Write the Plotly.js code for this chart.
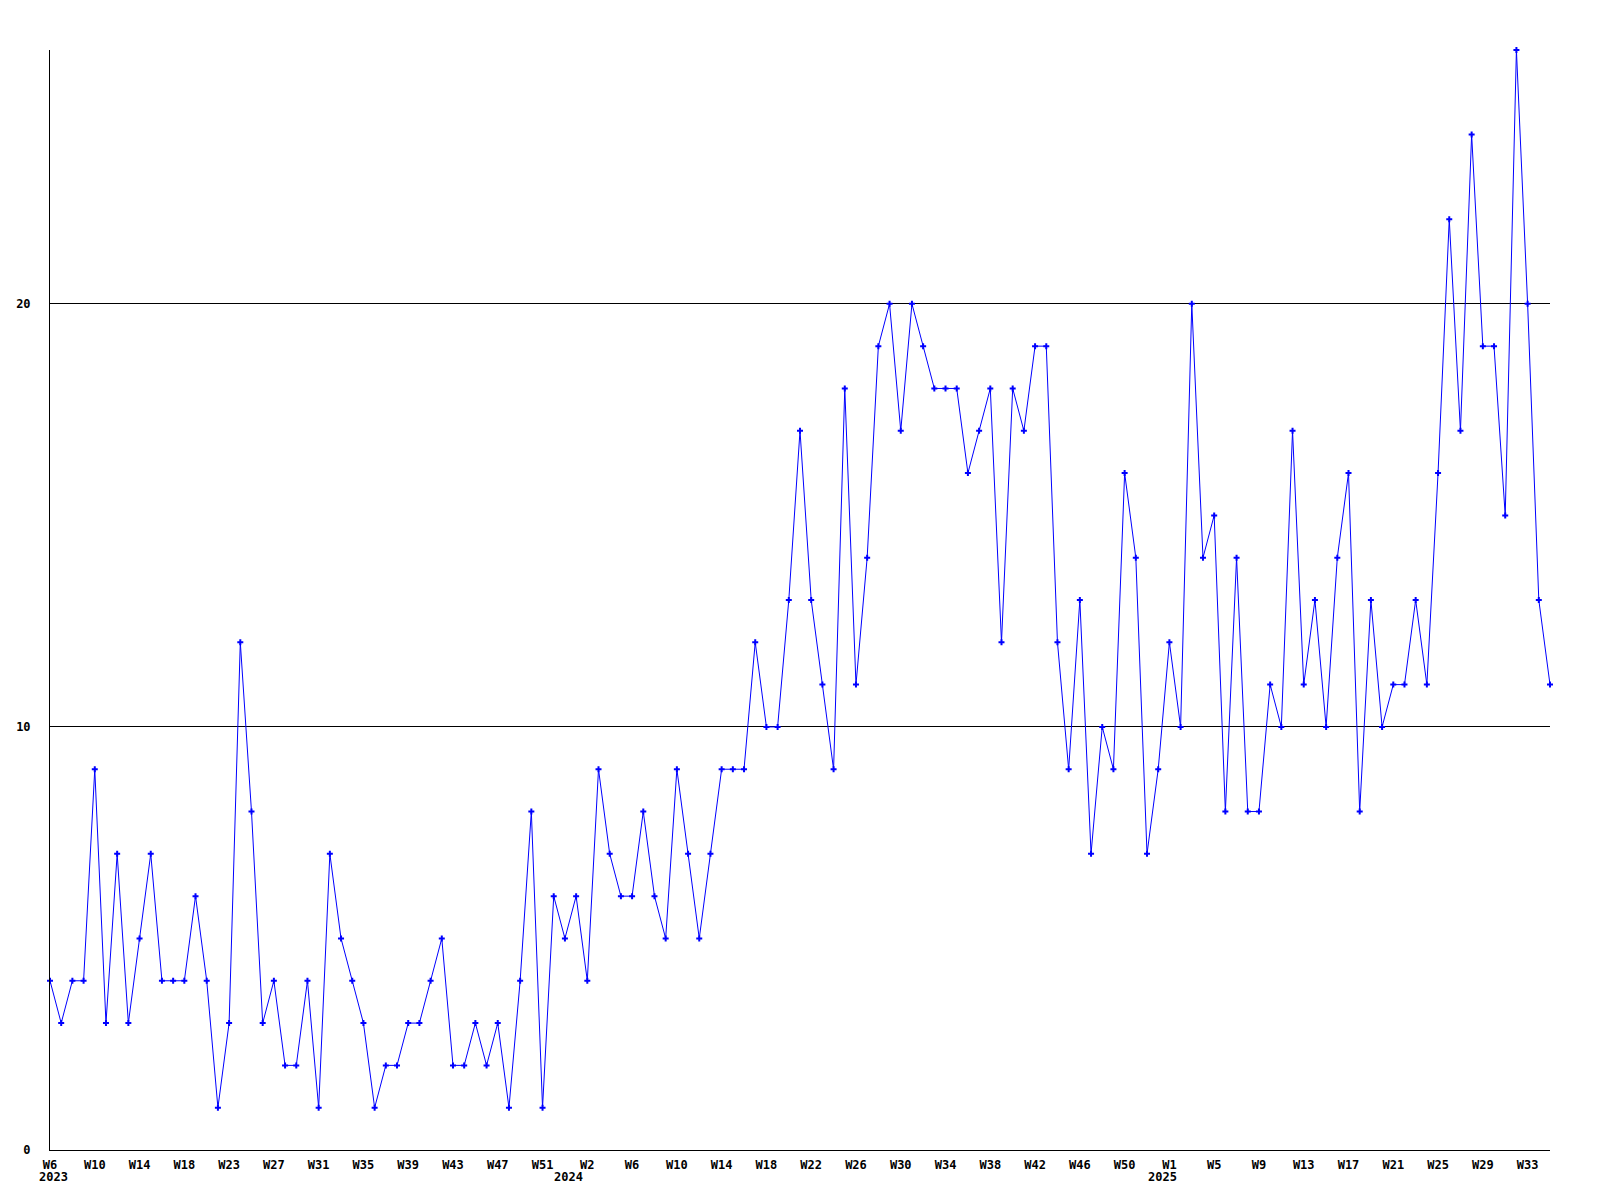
<!DOCTYPE html>
<html>
<head>
<meta charset="utf-8">
<script src="https://cdn.plot.ly/plotly-3.0.1.min.js"></script>
<style>html,body{margin:0;padding:0;background:#fff;}#chart{width:1600px;height:1200px;}</style>
</head>
<body>
<div id="chart"></div>
<script>
// Weekly counts, 2023 W6 through 2025 W35 (one value per plotted week)
const values = [
  4,3,4,4,9,3,7,3,5,7,
  4,4,4,6,4,1,3,12,8,3,
  4,2,2,4,1,7,5,4,3,1,
  2,2,3,3,4,5,2,2,3,2,
  3,1,4,8,1,6,5,6,4,9,
  7,6,6,8,6,5,9,7,5,7,
  9,9,9,12,10,10,13,17,13,11,
  9,18,11,14,19,20,17,20,19,18,
  18,18,16,17,18,12,18,17,19,19,
  12,9,13,7,10,9,16,14,7,9,
  12,10,20,14,15,8,14,8,8,11,
  10,17,11,13,10,14,16,8,13,10,
  11,11,13,11,16,22,17,24,19,19,
  15,26,20,13,11
];
// Tick labels, one every 4th week
const weekTickLabels = ['W6','W10','W14','W18','W23','W27','W31','W35','W39','W43','W47','W51',
  'W2','W6','W10','W14','W18','W22','W26','W30','W34','W38','W42','W46','W50',
  'W1','W5','W9','W13','W17','W21','W25','W29','W33'];
const yearLabels = ['2023','2024','2025'];
const yearStartTick = [0, 12, 25]; // index into weekTickLabels where each year begins

const xIdx = values.map((_, i) => i);
const tickStep = 4;
const tickvals = weekTickLabels.map((_, i) => i * tickStep);
const yearOffsets = [0.3, -1.7, -0.6];

const font = {family: 'DejaVu Sans Mono, Liberation Mono, monospace', size: 12, color: '#000', weight: 'bold'};

const trace = {
  x: xIdx, y: values, type: 'scatter', mode: 'lines+markers',
  line: {color: '#0000ff', width: 1},
  marker: {color: '#0000ff', symbol: 'cross', size: 5, line: {width: 0}},
  cliponaxis: false,
  hoverinfo: 'skip'
};

const annotations = yearLabels.map((t, k) => ({
  text: t, xref: 'x', yref: 'paper',
  x: tickvals[yearStartTick[k]] + yearOffsets[k], y: 0,
  yshift: -27, yanchor: 'middle', xanchor: 'center', showarrow: false, font: font
}));

const layout = {
  width: 1600, height: 1200,
  margin: {l: 50, r: 50, t: 50, b: 50},
  paper_bgcolor: '#fff', plot_bgcolor: '#fff',
  showlegend: false,
  font: font,
  xaxis: {
    range: [0, values.length - 1],
    tickmode: 'array', tickvals: tickvals, ticktext: weekTickLabels,
    showgrid: false, zeroline: false,
    showline: true, linecolor: '#000', linewidth: 1,
    ticks: '', ticklabelstandoff: 4,
    tickfont: font, fixedrange: true
  },
  yaxis: {
    range: [0, 26],
    tickmode: 'array', tickvals: [0, 10, 20], ticktext: ['0','10','20'],
    showgrid: true, gridcolor: '#000', gridwidth: 1,
    zeroline: false,
    showline: true, linecolor: '#000', linewidth: 1,
    ticks: '', ticklabelstandoff: 16,
    tickfont: font, fixedrange: true
  },
  annotations: annotations
};

Plotly.newPlot('chart', [trace], layout, {displayModeBar: false, staticPlot: true});
</script>
</body>
</html>
